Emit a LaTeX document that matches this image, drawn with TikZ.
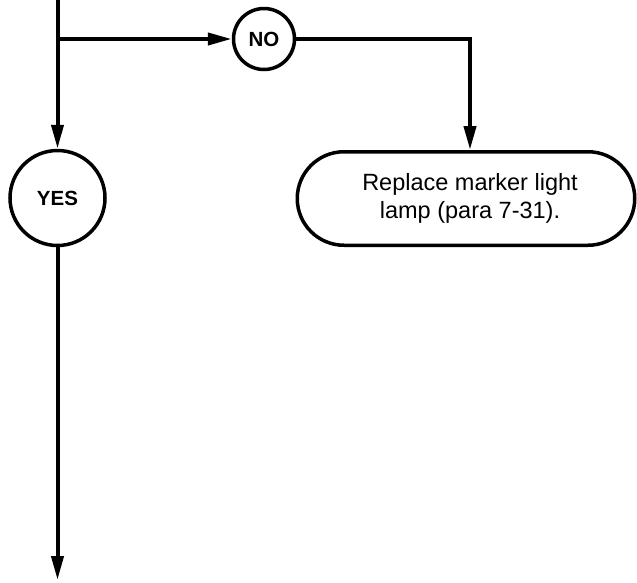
\documentclass[tikz,border=0pt]{standalone}
\usepackage{fontspec}
\setmainfont{Liberation Sans}
\usetikzlibrary{arrows.meta,shapes.misc}
\begin{document}
\begin{tikzpicture}[x=1pt,y=-1pt,
  flow/.style={line width=4pt,-{Triangle[length=24pt,width=12pt]}},
  plain/.style={line width=4pt},
  decision/.style={circle,draw,line width=3.5pt,inner sep=0pt,font=\bfseries\fontsize{20.5}{24}\selectfont},
  action/.style={rounded rectangle,draw,line width=3.5pt,minimum width=337.5pt,minimum height=93.5pt,
    inner sep=0pt,align=center,font=\fontsize{23.5}{28.3}\selectfont}]
\useasboundingbox (0,0) rectangle (637,582);
\coordinate (top) at (57.5,0);
\coordinate (j) at (57.5,39);
\node[decision,minimum size=61pt] (no) at (264,39) {NO};
\node[decision,minimum size=95pt] (yes) at (57.5,198) {YES};
\node[action] (box) at (466,198.5) {\hspace*{8pt}Replace marker light\\\hspace*{8pt}lamp (para 7-31).};
\coordinate (end) at (57.5,580);
\draw[flow] (top) -- (yes);
\draw[flow] (j) -- (no);
\draw[flow] (no.east) -| ([xshift=4pt]box.north);
\draw[flow] (yes) -- (end);
\end{tikzpicture}
\end{document}
